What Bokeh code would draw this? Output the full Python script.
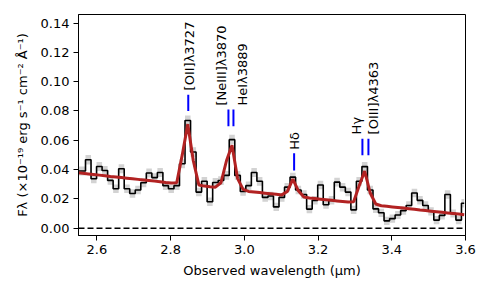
import numpy as np
from bokeh.plotting import figure
from bokeh.models import ColumnDataSource, Range1d, FixedTicker, PrintfTickFormatter, Span
from bokeh.core.properties import value
from bokeh.embed import file_html
from bokeh.resources import INLINE

# ---- data ----
wave = [2.5465, 2.5615, 2.5765, 2.5915, 2.6065, 2.6215, 2.6365, 2.6515, 2.6665, 2.6815,
        2.6965, 2.7115, 2.7265, 2.7415, 2.7565, 2.7715, 2.7865, 2.8015, 2.8165, 2.8315,
        2.8465, 2.8615, 2.8765, 2.8915, 2.9065, 2.9215, 2.9365, 2.9515, 2.9665, 2.9815,
        2.9965, 3.0115, 3.0265, 3.0415, 3.0565, 3.0715, 3.0865, 3.1015, 3.1165, 3.1315,
        3.1465, 3.1615, 3.1765, 3.1915, 3.2065, 3.2215, 3.2365, 3.2515, 3.2665, 3.2815,
        3.2965, 3.3115, 3.3265, 3.3415, 3.3565, 3.3715, 3.3865, 3.4015, 3.4165, 3.4315,
        3.4465, 3.4615, 3.4765, 3.4915, 3.5065, 3.5215, 3.5365, 3.5515, 3.5665, 3.5815,
        3.5965]

flux = [0.0390, 0.0390, 0.0467, 0.0337, 0.0421, 0.0394, 0.0326, 0.0269, 0.0405, 0.0269,
        0.0237, 0.0260, 0.0310, 0.0376, 0.0345, 0.0380, 0.0290, 0.0269, 0.0290, 0.0440,
        0.0735, 0.0520, 0.0246, 0.0320, 0.0180, 0.0312, 0.0325, 0.0360, 0.0604, 0.0360,
        0.0250, 0.0290, 0.0380, 0.0320, 0.0210, 0.0220, 0.0145, 0.0210, 0.0280, 0.0348,
        0.0260, 0.0230, 0.0130, 0.0190, 0.0295, 0.0160, 0.0190, 0.0314, 0.0280, 0.0246,
        0.0125, 0.0320, 0.0420, 0.0260, 0.0132, 0.0105, 0.0050, 0.0065, 0.0090, 0.0120,
        0.0155, 0.0240, 0.0190, 0.0155, 0.0115, 0.0055, 0.0087, 0.0230, 0.0100, 0.0055,
        0.0170]

flux_err = [0.0030, 0.0030, 0.0032, 0.0030, 0.0031, 0.0030, 0.0030, 0.0029, 0.0031, 0.0029,
            0.0029, 0.0029, 0.0030, 0.0031, 0.0030, 0.0031, 0.0029, 0.0029, 0.0029, 0.0031,
            0.0034, 0.0032, 0.0029, 0.0030, 0.0029, 0.0030, 0.0030, 0.0030, 0.0033, 0.0030,
            0.0029, 0.0029, 0.0030, 0.0030, 0.0029, 0.0029, 0.0028, 0.0029, 0.0029, 0.0030,
            0.0029, 0.0029, 0.0028, 0.0029, 0.0029, 0.0028, 0.0029, 0.0030, 0.0029, 0.0029,
            0.0028, 0.0030, 0.0031, 0.0029, 0.0028, 0.0028, 0.0028, 0.0028, 0.0028, 0.0028,
            0.0028, 0.0029, 0.0029, 0.0028, 0.0028, 0.0028, 0.0028, 0.0029, 0.0028, 0.0028,
            0.0029]

model = [0.0378, 0.0374, 0.0370, 0.0366, 0.0362, 0.0358, 0.0353, 0.0349, 0.0345, 0.0341,
         0.0337, 0.0333, 0.0329, 0.0325, 0.0321, 0.0317, 0.0312, 0.0308, 0.0310, 0.0500,
         0.0710, 0.0460, 0.0295, 0.0287, 0.0283, 0.0280, 0.0310, 0.0460, 0.0565, 0.0340,
         0.0265, 0.0251, 0.0247, 0.0243, 0.0239, 0.0235, 0.0231, 0.0227, 0.0250, 0.0335,
         0.0255, 0.0212, 0.0206, 0.0202, 0.0198, 0.0194, 0.0190, 0.0186, 0.0182, 0.0178,
         0.0180, 0.0290, 0.0390, 0.0240, 0.0165, 0.0153, 0.0149, 0.0145, 0.0141, 0.0137,
         0.0133, 0.0129, 0.0124, 0.0120, 0.0116, 0.0112, 0.0108, 0.0104, 0.0100, 0.0096,
         0.0092]

# emission line identifications
line_names = ["[OII]λ3727", "[NeIII]λ3870", "HeIλ3889", "Hδ", "Hγ", "[OIII]λ4363"]
line_wave = [2.8478, 2.9568, 2.9704, 3.1350, 3.3203, 3.3366]
mark_bottom = [0.0800, 0.0695, 0.0695, 0.0394, 0.0497, 0.0497]
mark_top = [0.0910, 0.0810, 0.0810, 0.0512, 0.0610, 0.0610]
label_wave = [2.8510, 2.9370, 2.9940, 3.1360, 3.3050, 3.3510]
label_y = [0.0940, 0.0837, 0.0837, 0.0535, 0.0640, 0.0640]

x_ticks = [2.6, 2.8, 3.0, 3.2, 3.4, 3.6]
y_ticks = [0.00, 0.02, 0.04, 0.06, 0.08, 0.10, 0.12, 0.14]

# ---- figure ----
FONT = "DejaVu Sans"
p = figure(width=483, height=286, output_backend="svg", toolbar_location=None,
           x_range=Range1d(2.55, 3.6), y_range=Range1d(-0.005, 0.1458),
           min_border_left=78, min_border_right=18, min_border_top=14, min_border_bottom=51)
p.background_fill_color = "white"
p.border_fill_color = "white"
p.xgrid.visible = False
p.ygrid.visible = False
p.outline_line_color = "black"
p.outline_line_alpha = 1.0
p.outline_line_width = 1

src = ColumnDataSource(dict(
    wave=wave, flux=flux, model=model,
    lo=list(np.array(flux) - np.array(flux_err)),
    hi=list(np.array(flux) + np.array(flux_err)),
))

p.varea_step(x="wave", y1="lo", y2="hi", step_mode="center", source=src,
             fill_color="gray", fill_alpha=0.35)
p.step(x="wave", y="flux", mode="center", source=src, line_color="black", line_width=1.6)
p.line(x="wave", y="model", source=src, line_color="#b22222", line_width=3)

p.add_layout(Span(location=0, dimension="width", line_color="black",
                  line_width=1.5, line_dash="6 3"))

lsrc = ColumnDataSource(dict(x=line_wave, y0=mark_bottom, y1=mark_top,
                             lx=label_wave, ly=label_y, name=line_names))
p.segment(x0="x", y0="y0", x1="x", y1="y1", source=lsrc, line_color="blue", line_width=2)
p.text(x="lx", y="ly", text="name", source=lsrc, angle=np.pi / 2,
       text_align="left", text_baseline="middle",
       text_font=value(FONT), text_font_size="13px", text_color="black")

for ax in (p.xaxis[0], p.yaxis[0]):
    ax.axis_line_color = "black"
    ax.major_tick_line_color = "black"
    ax.major_tick_out = 5
    ax.major_tick_in = 0
    ax.minor_tick_line_color = None
    ax.major_label_text_font = FONT
    ax.major_label_text_font_size = "13px"
    ax.major_label_text_color = "black"
    ax.axis_label_text_font = FONT
    ax.axis_label_text_font_size = "13px"
    ax.axis_label_text_font_style = "normal"
    ax.axis_label_text_color = "black"

p.xaxis.ticker = FixedTicker(ticks=x_ticks)
p.xaxis.formatter = PrintfTickFormatter(format="%.1f")
p.xaxis.axis_label = "Observed wavelength (μm)"
p.xaxis.major_label_standoff = 4
p.xaxis.axis_label_standoff = 6

p.yaxis.ticker = FixedTicker(ticks=y_ticks)
p.yaxis.formatter = PrintfTickFormatter(format="%.2f")
p.yaxis.axis_label = "Fλ (×10⁻¹⁹ erg s⁻¹ cm⁻² Å⁻¹)"
p.yaxis.major_label_standoff = 4
p.yaxis.axis_label_standoff = 8

open("out.html", "w").write(file_html(p, INLINE))
